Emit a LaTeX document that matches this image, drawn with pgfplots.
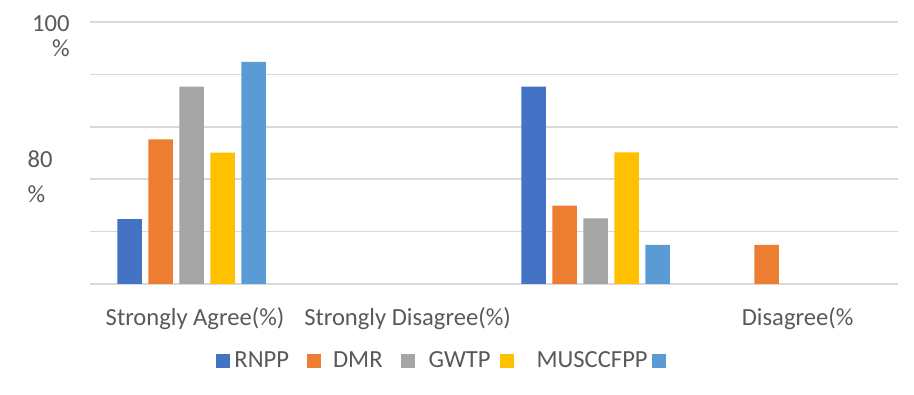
\documentclass[border=0pt]{standalone}
\usepackage{pgfplots}
\pgfplotsset{compat=1.18}
\usepackage{fontspec}
\setmainfont{Carlito}
\definecolor{cA}{HTML}{4472C4}
\definecolor{cB}{HTML}{ED7D31}
\definecolor{cC}{HTML}{A5A5A5}
\definecolor{cD}{HTML}{FFC000}
\definecolor{cE}{HTML}{5B9BD5}
\definecolor{txt}{HTML}{595959}
\definecolor{grd}{HTML}{D9D9D9}
\pgfplotsset{sqlegend/.style={legend image code/.code={\fill[##1,draw=none] (0pt,-3.5pt) rectangle (7pt,3.5pt);}}}
\begin{document}
\fontsize{12.3}{14.8}\selectfont
\begin{tikzpicture}
\begin{axis}[
  scale only axis,
  width=404pt, height=131pt,
  xmin=-0.503, xmax=3.497,
  ymin=0, ymax=100,
  ybar,
  bar width=12.2pt,
  axis line style={draw=none},
  major tick length=0pt,
  ymajorgrids,
  grid style={grd, line width=0.75pt},
  ytick={0,20,40,60,80,100},
  yticklabels={,,{\begin{tabular}{@{}l@{}}80\\[2.7pt]\%\end{tabular}\kern18.5pt},,,},
  yticklabel style={inner sep=0pt, font=\fontsize{12.3}{14.8}\selectfont, text=txt},
  extra y ticks={100},
  extra y tick labels={{\begin{tabular}{@{}r@{}}100\\[-2.3pt]\%\end{tabular}\kern10pt}},
  extra y tick style={grid=none, yticklabel style={yshift=-8pt}},
  xtick={0.017,1.069,3},
  xticklabels={Strongly Agree(\%),Strongly Disagree(\%),Disagree(\%},
  xticklabel style={anchor=base, yshift=-20.5pt, inner sep=0pt, font=\fontsize{12.3}{14.8}\selectfont, text=txt},
  legend style={at={(0.156,-0.294)}, anchor=west, draw=none, fill=none, inner sep=0pt,
    nodes={inner sep=0pt, text=txt, font=\fontsize{12.3}{14.8}\selectfont},
    /tikz/column sep=0pt},
  legend columns=-1,
]
\addplot[fill=cA, draw=none, bar shift=-31pt, sqlegend] coordinates {(0,24.8) (2,75.3)};
\addplot[fill=cB, draw=none, bar shift=-15.5pt, sqlegend] coordinates {(0,55.2) (2,29.9) (3,14.9)};
\addplot[fill=cC, draw=none, bar shift=0pt, sqlegend] coordinates {(0,75.3) (2,25.0)};
\addplot[fill=cD, draw=none, bar shift=15.5pt, sqlegend] coordinates {(0,50.1) (2,50.2)};
\addplot[fill=cE, draw=none, bar shift=31pt, sqlegend] coordinates {(0,84.8) (2,14.9)};
\legend{{\kern2pt RNPP\kern9pt},{\kern6pt DMR\kern9pt},{\kern7pt GWTP\kern4.5pt},{\kern11.5pt MUSCCFPP\kern2pt},{\mbox{}}}
\end{axis}
\pgfresetboundingbox
\path[use as bounding box] (-45pt,-55.5pt) rectangle (412pt,142pt);
\end{tikzpicture}
\end{document}
